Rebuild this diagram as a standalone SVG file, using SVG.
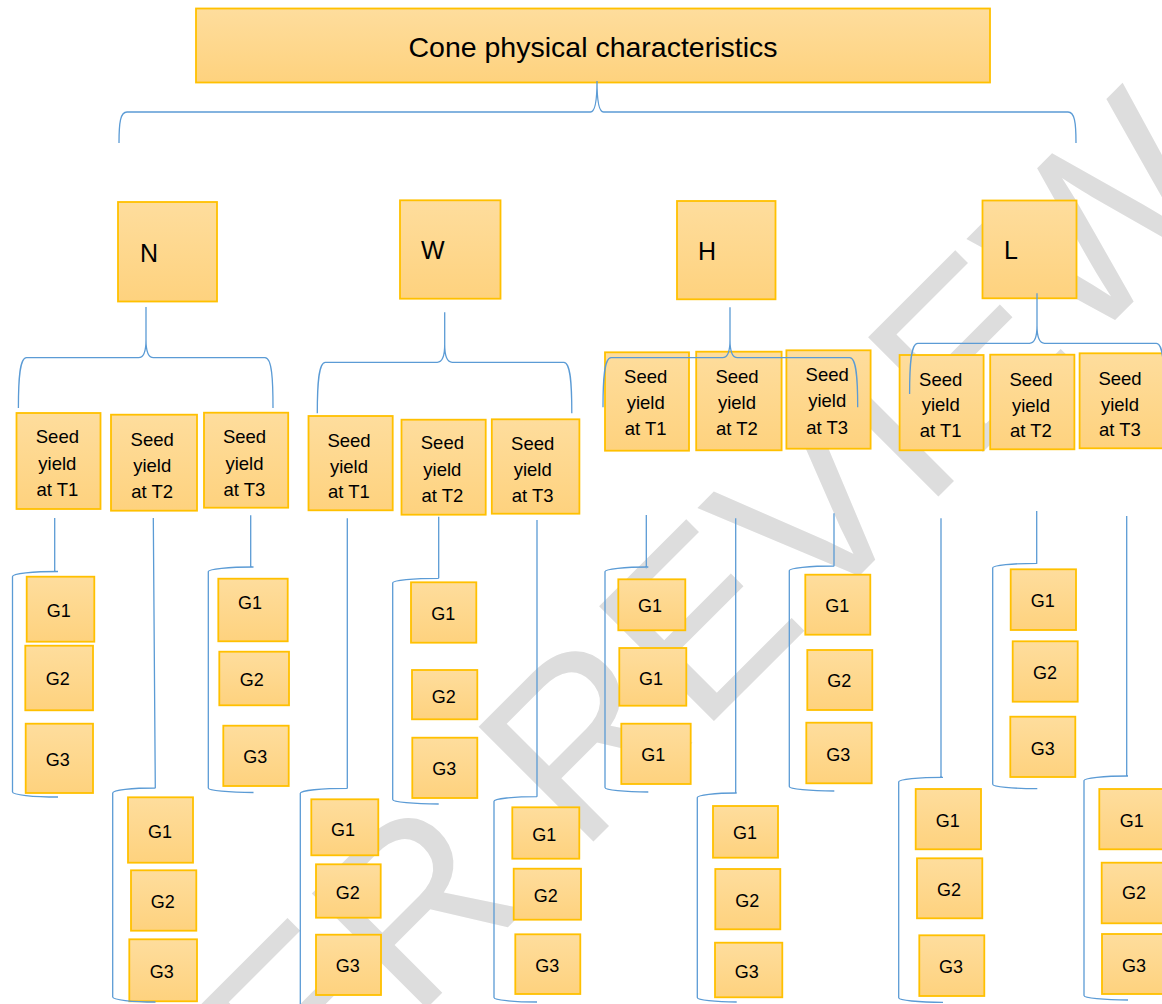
<svg xmlns="http://www.w3.org/2000/svg" width="1162" height="1004" viewBox="0 0 1162 1004">
<defs>
<linearGradient id="gold" x1="0" y1="0" x2="0" y2="1">
<stop offset="0" stop-color="#FEDD9D"/>
<stop offset="1" stop-color="#FED27E"/>
</linearGradient>
<style>
.box{fill:url(#gold);stroke:#FFC000;stroke-width:1.8}
.t{font-family:"Liberation Sans",Arial,sans-serif;fill:#000}
.seed{font-size:18.5px;text-anchor:middle}
.g{font-size:18px;text-anchor:middle}
.lvl{font-size:25px}
.title{font-size:28.5px;text-anchor:middle}
.c{fill:none;stroke:#5B9BD5;stroke-width:1.3}
.wm{font-family:"Liberation Sans",Arial,sans-serif;font-size:236px;fill:#DDDDDD}
</style>
</defs>
<rect width="1162" height="1004" fill="#fff"/>
<g id="watermark">
<text class="wm" x="79" y="1356" transform="rotate(-45 79 1356)">PEER REVIEW</text>
</g>
<g id="title"><rect class="box" x="196" y="8.5" width="794" height="74"/><text class="t title" x="593" y="57">Cone physical characteristics</text></g>
<g id="N"><rect class="box" x="118" y="202" width="99" height="99.5"/><text class="t lvl" x="140" y="261.5">N</text></g>
<g id="W"><rect class="box" x="400" y="200.3" width="100.5" height="98.4"/><text class="t lvl" x="421" y="259">W</text></g>
<g id="H"><rect class="box" x="677" y="201" width="98.5" height="98.3"/><text class="t lvl" x="698" y="260">H</text></g>
<g id="L"><rect class="box" x="982.5" y="200.5" width="94" height="97.8"/><text class="t lvl" x="1004" y="259">L</text></g>

<g id="N-T1"><rect class="box" x="16.5" y="413" width="84" height="96"/><text class="t seed"><tspan x="57.4" y="443">Seed</tspan><tspan x="57.4" y="469.5">yield</tspan><tspan x="57.4" y="495.7">at T1</tspan></text></g>
<g id="N-T2"><rect class="box" x="111" y="414.7" width="86" height="96"/><text class="t seed"><tspan x="152.2" y="446">Seed</tspan><tspan x="152.2" y="471.8">yield</tspan><tspan x="152.2" y="497.5">at T2</tspan></text></g>
<g id="N-T3"><rect class="box" x="204" y="412.7" width="84.2" height="95"/><text class="t seed"><tspan x="244.5" y="443.3">Seed</tspan><tspan x="244.5" y="469.5">yield</tspan><tspan x="244.5" y="495.6">at T3</tspan></text></g>
<g id="W-T1"><rect class="box" x="308.5" y="416" width="84.2" height="94.3"/><text class="t seed"><tspan x="349" y="446.7">Seed</tspan><tspan x="349" y="472.5">yield</tspan><tspan x="349" y="498.3">at T1</tspan></text></g>
<g id="W-T2"><rect class="box" x="401.5" y="419.7" width="84.2" height="95"/><text class="t seed"><tspan x="442.4" y="449.3">Seed</tspan><tspan x="442.4" y="475.8">yield</tspan><tspan x="442.4" y="502.3">at T2</tspan></text></g>
<g id="W-T3"><rect class="box" x="491.8" y="419.3" width="87.6" height="94.4"/><text class="t seed"><tspan x="532.7" y="450">Seed</tspan><tspan x="532.7" y="475.8">yield</tspan><tspan x="532.7" y="501.7">at T3</tspan></text></g>
<g id="H-T1"><rect class="box" x="605" y="352.3" width="84" height="98.4"/><text class="t seed"><tspan x="645.7" y="383.3">Seed</tspan><tspan x="645.7" y="409.3">yield</tspan><tspan x="645.7" y="435.3">at T1</tspan></text></g>
<g id="H-T2"><rect class="box" x="696.2" y="351.7" width="85.4" height="98.6"/><text class="t seed"><tspan x="737" y="382.7">Seed</tspan><tspan x="737" y="408.8">yield</tspan><tspan x="737" y="435">at T2</tspan></text></g>
<g id="H-T3"><rect class="box" x="786.4" y="350.3" width="84.2" height="98.4"/><text class="t seed"><tspan x="827.2" y="380.7">Seed</tspan><tspan x="827.2" y="407.3">yield</tspan><tspan x="827.2" y="434">at T3</tspan></text></g>
<g id="L-T1"><rect class="box" x="899.6" y="355" width="84" height="95.3"/><text class="t seed"><tspan x="940.7" y="386">Seed</tspan><tspan x="940.7" y="411.3">yield</tspan><tspan x="940.7" y="436.7">at T1</tspan></text></g>
<g id="L-T2"><rect class="box" x="990.2" y="354.7" width="84.2" height="94.6"/><text class="t seed"><tspan x="1031" y="386">Seed</tspan><tspan x="1031" y="411.7">yield</tspan><tspan x="1031" y="437.3">at T2</tspan></text></g>
<g id="L-T3"><rect class="box" x="1079.6" y="353.3" width="84" height="95"/><text class="t seed"><tspan x="1120" y="385">Seed</tspan><tspan x="1120" y="410.5">yield</tspan><tspan x="1120" y="436">at T3</tspan></text></g>

<g id="N-T1-G1"><rect class="box" x="26.7" y="576.7" width="67.6" height="65"/><text class="t g" x="58.8" y="617.3">G1</text></g>
<g id="N-T1-G2"><rect class="box" x="25.3" y="645.7" width="67.7" height="64.6"/><text class="t g" x="57.7" y="685">G2</text></g>
<g id="N-T1-G3"><rect class="box" x="25.7" y="723.7" width="67.3" height="69.3"/><text class="t g" x="57.7" y="766">G3</text></g>
<g id="N-T2-G1"><rect class="box" x="128" y="797.3" width="65" height="65.4"/><text class="t g" x="160" y="838.3">G1</text></g>
<g id="N-T2-G2"><rect class="box" x="131" y="870.3" width="65.3" height="60.4"/><text class="t g" x="162.7" y="908.3">G2</text></g>
<g id="N-T2-G3"><rect class="box" x="129.3" y="939.3" width="67.7" height="62"/><text class="t g" x="161.7" y="977.7">G3</text></g>
<g id="N-T3-G1"><rect class="box" x="218.3" y="578.7" width="69.4" height="62.6"/><text class="t g" x="250" y="609">G1</text></g>
<g id="N-T3-G2"><rect class="box" x="219.3" y="651.7" width="69.7" height="53.6"/><text class="t g" x="251.7" y="686">G2</text></g>
<g id="N-T3-G3"><rect class="box" x="223.3" y="725.7" width="65.4" height="60.3"/><text class="t g" x="255.3" y="762.7">G3</text></g>
<g id="W-T1-G1"><rect class="box" x="311.3" y="799.3" width="67" height="56"/><text class="t g" x="343" y="835.7">G1</text></g>
<g id="W-T1-G2"><rect class="box" x="316" y="864.3" width="64.7" height="53.4"/><text class="t g" x="347.7" y="899">G2</text></g>
<g id="W-T1-G3"><rect class="box" x="316" y="934.7" width="65" height="60.3"/><text class="t g" x="347.7" y="971.7">G3</text></g>
<g id="W-T2-G1"><rect class="box" x="411" y="582.3" width="65.3" height="60.4"/><text class="t g" x="443.2" y="620">G1</text></g>
<g id="W-T2-G2"><rect class="box" x="412" y="670" width="65.3" height="49.3"/><text class="t g" x="443.7" y="702.7">G2</text></g>
<g id="W-T2-G3"><rect class="box" x="412.3" y="737.7" width="65" height="60.3"/><text class="t g" x="444.2" y="775">G3</text></g>
<g id="W-T3-G1"><rect class="box" x="512.3" y="807.3" width="67" height="51.4"/><text class="t g" x="544.3" y="841">G1</text></g>
<g id="W-T3-G2"><rect class="box" x="513.7" y="868.7" width="67.3" height="51"/><text class="t g" x="545.7" y="901.7">G2</text></g>
<g id="W-T3-G3"><rect class="box" x="515.3" y="934.3" width="65" height="59.7"/><text class="t g" x="547.3" y="971.7">G3</text></g>
<g id="H-T1-G1a"><rect class="box" x="618.3" y="579.3" width="67" height="51"/><text class="t g" x="650" y="611.7">G1</text></g>
<g id="H-T1-G1b"><rect class="box" x="619.3" y="648" width="67" height="57.7"/><text class="t g" x="651" y="685">G1</text></g>
<g id="H-T1-G1c"><rect class="box" x="621.3" y="723.7" width="69.4" height="60.3"/><text class="t g" x="653.3" y="761">G1</text></g>
<g id="H-T2-G1"><rect class="box" x="713" y="806" width="65" height="51.7"/><text class="t g" x="745" y="839">G1</text></g>
<g id="H-T2-G2"><rect class="box" x="715.3" y="869" width="65" height="60.3"/><text class="t g" x="747.3" y="906.7">G2</text></g>
<g id="H-T2-G3"><rect class="box" x="715" y="942.7" width="67.3" height="54.6"/><text class="t g" x="746.7" y="978.3">G3</text></g>
<g id="H-T3-G1"><rect class="box" x="805.3" y="574.7" width="65" height="60"/><text class="t g" x="837.3" y="611.7">G1</text></g>
<g id="H-T3-G2"><rect class="box" x="807.3" y="650" width="65" height="60"/><text class="t g" x="839.3" y="687.3">G2</text></g>
<g id="H-T3-G3"><rect class="box" x="806.3" y="722.7" width="65.4" height="60.6"/><text class="t g" x="838.3" y="761">G3</text></g>
<g id="L-T1-G1"><rect class="box" x="915.7" y="789" width="65.3" height="60.3"/><text class="t g" x="947.7" y="826.7">G1</text></g>
<g id="L-T1-G2"><rect class="box" x="917" y="858.3" width="65.3" height="60"/><text class="t g" x="949" y="896">G2</text></g>
<g id="L-T1-G3"><rect class="box" x="919.3" y="935.3" width="65" height="60.7"/><text class="t g" x="951" y="973.3">G3</text></g>
<g id="L-T2-G1"><rect class="box" x="1010.7" y="569.3" width="65.3" height="60.7"/><text class="t g" x="1042.7" y="606.7">G1</text></g>
<g id="L-T2-G2"><rect class="box" x="1012.7" y="641.3" width="65" height="60.4"/><text class="t g" x="1045" y="679.3">G2</text></g>
<g id="L-T2-G3"><rect class="box" x="1010.3" y="716.7" width="65" height="60.3"/><text class="t g" x="1042.7" y="755">G3</text></g>
<g id="L-T3-G1"><rect class="box" x="1099.3" y="789" width="66" height="60.3"/><text class="t g" x="1131.7" y="826.7">G1</text></g>
<g id="L-T3-G2"><rect class="box" x="1101.7" y="862.7" width="66" height="60.6"/><text class="t g" x="1134" y="899.3">G2</text></g>
<g id="L-T3-G3"><rect class="box" x="1102" y="934" width="66" height="60"/><text class="t g" x="1134" y="971.7">G3</text></g>

<g id="connectors" class="c">
<path class="c" d="M119,143 C119,122 120.5,112 127,112 L590.5,112 C595,112 597,100 597,81 C597,100 599,112 603.5,112 L1068,112 C1074.5,112 1076,122 1076,143"/>
<path class="c" d="M18.4,408 C18.4,380 19.5,357.7 26.5,357.7 L138.5,357.7 C143.5,357.7 146,352 146,340 L146,307 M146,340 C146,352 148.5,357.7 153.5,357.7 L265,357.7 C272,357.7 273,380 273,408"/>
<path class="c" d="M317.3,413.3 C317.3,385 318.4,362.3 325.4,362.3 L437.2,362.3 C442.2,362.3 444.7,356.6 444.7,344.6 L444.7,312.3 M444.7,344.6 C444.7,356.6 447.2,362.3 452.2,362.3 L563.8,362.3 C570.8,362.3 571.8,385 571.8,413.3"/>
<path class="c" d="M603,407.3 C603,380 604.1,357.7 611.1,357.7 L722.5,357.7 C727.5,357.7 730,352 730,340 L730,307.3 M730,340 C730,352 732.5,357.7 737.5,357.7 L849.7,357.7 C856.7,357.7 857.7,380 857.7,407.3"/>
<path class="c" d="M909.6,394 C909.6,366 910.7,343.3 917.7,343.3 L1029.5,343.3 C1034.5,343.3 1037,337.6 1037,325.6 L1037,293.3 M1037,325.6 C1037,337.6 1039.5,343.3 1044.5,343.3 L1156.4,343.3 C1163.4,343.3 1164.4,366 1164.4,394"/>

<path class="c" d="M54.7,518 V572 M58,571.5 A45.5,5 0 0 0 12.5,576.5 L12.5,792 A45.5,5 0 0 0 58,797"/>
<path class="c" d="M153.3,518 L155.3,788 M155.5,788 A42.8,5 0 0 0 112.7,793 L112.7,997 A42.8,5 0 0 0 155.5,1002"/>
<path class="c" d="M250.7,515.3 V567.3 M253.5,567 A45.2,4.5 0 0 0 208.3,571.5 L208.3,788 A45.2,4.5 0 0 0 253.5,792.5"/>
<path class="c" d="M347.3,518.3 V788.3 M347.5,788.3 A47.2,5 0 0 0 300.3,793.3 L300.3,1006 A47.2,5 0 0 0 347.5,1011"/>
<path class="c" d="M438.7,516.7 V578.3 M438.7,578.3 A46,4.5 0 0 0 392.7,582.8 L392.7,799.5 A46,4.5 0 0 0 438.7,804"/>
<path class="c" d="M537,520 V796.7 M537,796.7 A43,4.5 0 0 0 494,801.2 L494,997.5 A43,4.5 0 0 0 537,1002"/>
<path class="c" d="M646.3,515 V568.3 M648.3,567 A43.3,4.5 0 0 0 605,571.5 L605,787.5 A43.3,4.5 0 0 0 648.3,792"/>
<path class="c" d="M735.7,518.3 V792.7 M736.7,793 A39.4,4.5 0 0 0 697.3,797.5 L697.3,997.5 A39.4,4.5 0 0 0 736.7,1002"/>
<path class="c" d="M834,513.3 V566 M834.3,566 A45,4.5 0 0 0 789.3,570.5 L789.3,786.5 A45,4.5 0 0 0 834.3,791"/>
<path class="c" d="M941,518.3 V777.3 M943,777.3 A44.3,4.5 0 0 0 898.7,781.8 L898.7,997.8 A44.3,4.5 0 0 0 943,1002.3"/>
<path class="c" d="M1036.7,511 V563.3 M1037.3,563.3 A44.6,4.5 0 0 0 992.7,567.8 L992.7,784.2 A44.6,4.5 0 0 0 1037.3,788.7"/>
<path class="c" d="M1126.7,516 V776 M1128,776 A44,4.5 0 0 0 1084,780.5 L1084,995.5 A44,4.5 0 0 0 1128,1000"/>
</g>
</svg>
